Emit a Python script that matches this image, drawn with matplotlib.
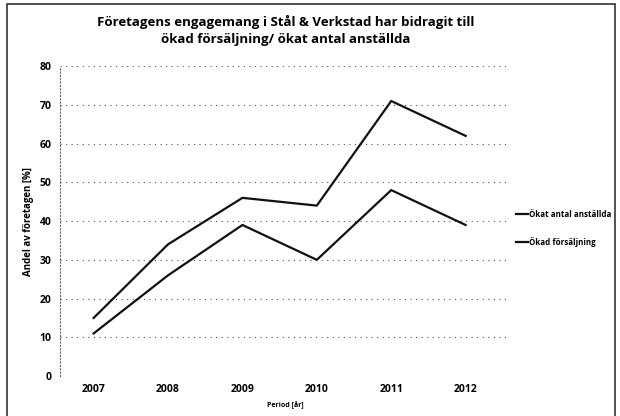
import matplotlib
matplotlib.use("Agg")
import matplotlib.pyplot as plt
from matplotlib.patches import Rectangle

# values
years = [2007, 2008, 2009, 2010, 2011, 2012]
anstallda = [15, 34, 46, 44, 71, 62]
forsaljning = [11, 26, 39, 30, 48, 39]
y_ticks = [0, 10, 20, 30, 40, 50, 60, 70, 80]

plt.rcParams["font.family"] = ["Open Sans", "DejaVu Sans"]

fig = plt.figure(figsize=(6.2, 4.16), dpi=100)
ax = fig.add_axes([0.097, 0.096, 0.726, 0.745])

# scanned page border
fig.patches.append(Rectangle((0.012, -0.01), 0.98, 1.0, transform=fig.transFigure,
                             fill=False, ec="#333333", lw=1.2))

ax.plot(years, anstallda, color="#111111", lw=1.6, label="Ökat antal anställda")
ax.plot(years, forsaljning, color="#111111", lw=1.6, label="Ökad försäljning")

ax.set_xlim(2006.55, 2012.6)
ax.set_ylim(0, 80)
ax.set_xticks(years)
ax.set_yticks(y_ticks)
ax.tick_params(length=0, labelsize=7.5, pad=6)
for lab in ax.get_xticklabels() + ax.get_yticklabels():
    lab.set_fontweight("bold")

ax.grid(axis="y", linestyle=(0, (1, 4)), color="#555555", lw=0.8)
for s in ["top", "right", "bottom"]:
    ax.spines[s].set_visible(False)
ax.spines["left"].set_linestyle((0, (1, 2)))
ax.spines["left"].set_color("#666666")

ax.set_xlabel("Period [år]", fontsize=5, fontweight="bold")
ax.set_ylabel("Andel av företagen [%]", fontsize=7, fontweight="bold", labelpad=4)
ax.set_title("Företagens engagemang i Stål & Verkstad har bidragit till\n"
             "ökad försäljning/ ökat antal anställda",
             fontsize=9.5, fontweight="bold", pad=17, linespacing=1.35)

leg = ax.legend(loc="center left", bbox_to_anchor=(1.0, 0.476), frameon=False,
                fontsize=5.8, handlelength=1.5, handletextpad=0.1,
                labelspacing=2.2, borderaxespad=0.3)
for t in leg.get_texts():
    t.set_fontweight("bold")

fig.savefig("out.png", dpi=100)
